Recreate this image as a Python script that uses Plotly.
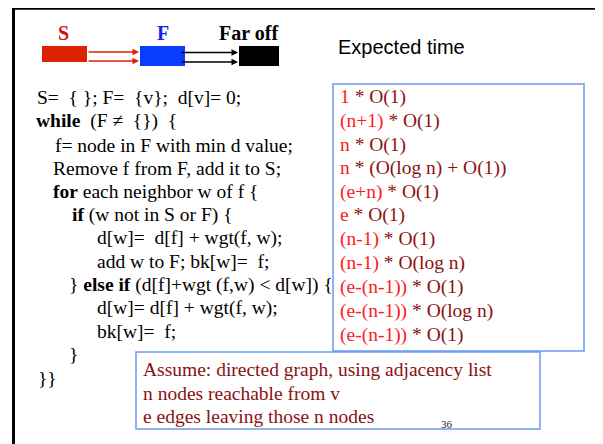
import plotly.graph_objects as go

W, H = 603, 444
OFF = 8  # browser body margin compensation
SERIF = "Liberation Serif, Times New Roman, serif"
SANS = "Liberation Sans, Arial, sans-serif"
DARK = "#8b1111"
RED = "#ff1a1a"
NB = "\u00a0"

code_lines = [
    f"S={NB} {{ }}; F={NB} {{v}};{NB} d[v]= 0;",
    f"<b>while</b>{NB} (F ≠{NB} {{}}){NB} {{",
    "f= node in F with min d value;",
    "Remove f from F, add it to S;",
    "<b>for</b> each neighbor w of f {",
    "<b>if</b> (w not in S or F) {",
    f"d[w]={NB} d[f] + wgt(f, w);",
    f"add w to F; bk[w]={NB} f;",
    "} <b>else if</b> (d[f]+wgt (f,w) &lt; d[w]) {",
    "d[w]= d[f] + wgt(f, w);",
    f"bk[w]={NB} f;",
    "}",
    "}}",
]
code_x = [35, 34, 53, 51, 51, 70, 95, 95, 67, 95, 95, 67, 36]
code_y = [97, 121, 145, 168, 191, 215, 238, 261, 285, 308, 331, 354, 378]

cost_factor = ["1", "(n+1)", "n", "n", "(e+n)", "e", "(n-1)", "(n-1)",
               "(e-(n-1))", "(e-(n-1))", "(e-(n-1))"]
cost_term = ["O(1)", "O(1)", "O(1)", "(O(log n) + O(1))", "O(1)", "O(1)",
             "O(1)", "O(log n)", "O(1)", "O(log n)", "O(1)"]
cost_y = [97, 121, 145, 168, 192, 215, 239, 263, 287, 311, 335]

assume_lines = [
    "Assume: directed graph, using adjacency list",
    "n nodes reachable from v",
    "e edges leaving those n nodes",
]
assume_y = [369, 393, 416]

fig = go.Figure()
fig.update_layout(
    width=W - OFF, height=H - OFF, margin=dict(l=0, r=0, t=0, b=0, pad=0),
    paper_bgcolor="white", plot_bgcolor="white", showlegend=False,
    xaxis=dict(range=[OFF, W], visible=False, fixedrange=True),
    yaxis=dict(range=[H, OFF], visible=False, fixedrange=True),
)

shapes = []
shapes.append(dict(type="line", x0=13, y0=8.6, x1=W + 5, y1=8.6, line=dict(color="black", width=2.5)))
shapes.append(dict(type="line", x0=13.5, y0=7.5, x1=13.5, y1=H + 5, line=dict(color="black", width=3)))
shapes.append(dict(type="rect", x0=42, y0=46, x1=87, y1=62, fillcolor="#dd2200", line=dict(width=0)))
shapes.append(dict(type="rect", x0=140, y0=46, x1=185, y1=66, fillcolor="#0a3cff", line=dict(width=0)))
shapes.append(dict(type="rect", x0=239, y0=46, x1=279, y1=66, fillcolor="black", line=dict(width=0)))
shapes.append(dict(type="rect", x0=333, y0=84, x1=584, y1=351, line=dict(color="#6a98f5", width=1.5), fillcolor="rgba(0,0,0,0)"))
shapes.append(dict(type="rect", x0=136, y0=352, x1=540, y1=429, line=dict(color="#6a98f5", width=1.5), fillcolor="white"))
fig.update_layout(shapes=shapes)

ann = []
ann.append(dict(x=63, y=33, text="<b>S</b>", font=dict(family=SERIF, size=20, color="#cc1111")))
ann.append(dict(x=163, y=33, text="<b>F</b>", font=dict(family=SERIF, size=20, color="#1a1aff")))
ann.append(dict(x=248, y=33, text="<b>Far off</b>", font=dict(family=SERIF, size=20, color="black")))
ann.append(dict(x=336, y=47, text="Expected time", xanchor="left", font=dict(family=SANS, size=20, color="black")))

for yy in (52, 61):
    ann.append(dict(x=139, y=yy, ax=87, ay=yy, axref="x", ayref="y", xref="x", yref="y",
                    text="", showarrow=True, arrowhead=2, arrowsize=1, arrowwidth=1.3,
                    arrowcolor="#dd2200"))
for yy in (52.5, 62):
    ann.append(dict(x=238, y=yy, ax=180, ay=yy, axref="x", ayref="y", xref="x", yref="y",
                    text="", showarrow=True, arrowhead=2, arrowsize=1, arrowwidth=1.3,
                    arrowcolor="black"))

for t, x, y in zip(code_lines, code_x, code_y):
    ann.append(dict(x=x, y=y, text=t, xanchor="left", font=dict(family=SERIF, size=19.5, color="black")))

for f, term, y in zip(cost_factor, cost_term, cost_y):
    txt = f'<span style="color:{RED}">{f}</span> * {term}'
    ann.append(dict(x=338, y=y, text=txt, xanchor="left", font=dict(family=SERIF, size=19.5, color=DARK)))

for t, y in zip(assume_lines, assume_y):
    ann.append(dict(x=141, y=y, text=t, xanchor="left", font=dict(family=SERIF, size=19.5, color=DARK)))

ann.append(dict(x=447, y=424, text="36", font=dict(family=SERIF, size=11, color="#222222")))

for a in ann:
    a.setdefault("xref", "x")
    a.setdefault("yref", "y")
    a.setdefault("showarrow", False)
    a.setdefault("yanchor", "middle")
fig.update_layout(annotations=ann)

fig.write_html("out.html")
